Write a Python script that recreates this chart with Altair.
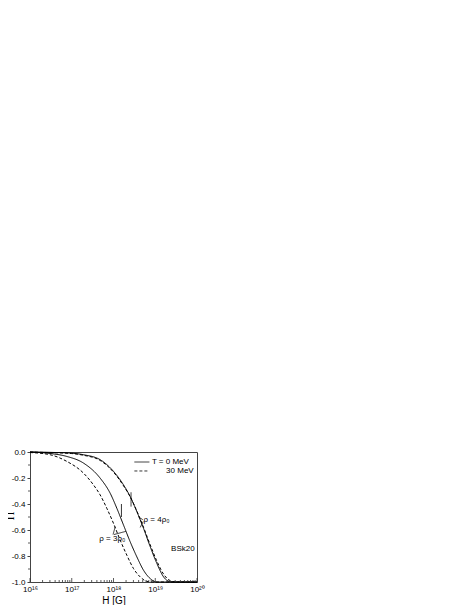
import altair as alt
import pandas as pd

# ---- data (log10 H [G], Pi) ----
logH_4_T0 = [16.0, 16.5, 17.0, 17.28, 17.68, 18.0, 18.24, 18.4, 18.56, 18.72, 18.88, 19.04, 19.2, 19.36, 19.5, 20.0]
pi_4_T0 = [0.0, -0.003, -0.009, -0.021, -0.059, -0.149, -0.253, -0.343, -0.459, -0.588, -0.729, -0.858, -0.961, -0.998, -1.0, -1.0]

logH_4_T30 = [16.0, 16.5, 17.0, 17.28, 17.68, 18.0, 18.24, 18.4, 18.56, 18.72, 18.88, 19.04, 19.2, 19.36, 19.5, 20.0]
pi_4_T30 = [-0.001, -0.005, -0.012, -0.025, -0.065, -0.155, -0.26, -0.345, -0.455, -0.58, -0.715, -0.84, -0.94, -0.99, -1.0, -1.0]

logH_3_T0 = [16.0, 16.5, 16.88, 17.28, 17.68, 17.92, 18.08, 18.24, 18.4, 18.56, 18.72, 18.88, 19.04, 20.0]
pi_3_T0 = [0.0, -0.012, -0.034, -0.085, -0.201, -0.317, -0.433, -0.562, -0.691, -0.807, -0.91, -0.974, -1.0, -1.0]

logH_3_T30 = [16.0, 16.48, 16.88, 17.28, 17.52, 17.68, 17.84, 18.0, 18.16, 18.32, 18.48, 18.64, 18.8, 18.96, 20.0]
pi_3_T30 = [-0.004, -0.021, -0.072, -0.162, -0.253, -0.330, -0.433, -0.549, -0.678, -0.794, -0.897, -0.961, -0.995, -1.0, -1.0]

x_major = [16, 17, 18, 19, 20]
x_tick_labels = ["10¹⁶", "10¹⁷", "10¹⁸", "10¹⁹", "10²⁰"]
y_major = [0.0, -0.2, -0.4, -0.6, -0.8, -1.0]
y_minor = [-0.1, -0.3, -0.5, -0.7, -0.9]
y_title = "Π"
x_title = "H [G]"

# annotation segments (log10 H, Pi)
seg_x1 = [18.70, 18.71, 17.99, 18.01, 18.42, 18.19, 18.50, 18.50]
seg_x2 = [18.60, 18.64, 18.04, 18.30, 18.42, 18.19, 18.86, 18.86]
seg_y1 = [-0.52, -0.535, -0.635, -0.635, -0.31, -0.40, -0.077, -0.146]
seg_y2 = [-0.50, -0.58, -0.575, -0.61, -0.42, -0.50, -0.077, -0.146]
seg_dash = ["solid", "solid", "solid", "solid", "solid", "solid", "solid", "dashed"]

txt_x = [18.92, 19.26, 18.72, 17.66, 19.38]
txt_y = [-0.077, -0.146, -0.52, -0.67, -0.745]
txt_s = ["T = 0 MeV", "30 MeV", "ρ = 4ρ₀", "ρ = 3ρ₀", "BSk20"]

# ---- tables ----
rows = []
for name, lh, pv, st in [("4rho0 T0", logH_4_T0, pi_4_T0, "solid"),
                         ("4rho0 T30", logH_4_T30, pi_4_T30, "dashed"),
                         ("3rho0 T0", logH_3_T0, pi_3_T0, "solid"),
                         ("3rho0 T30", logH_3_T30, pi_3_T30, "dashed")]:
    for a, b in zip(lh, pv):
        rows.append({"curve": name, "H": 10.0 ** a, "Pi": b, "style": st})
df = pd.DataFrame(rows)

seg = pd.DataFrame({"H": [10.0 ** v for v in seg_x1], "x2": [10.0 ** v for v in seg_x2],
                    "Pi": seg_y1, "y2": seg_y2, "style": seg_dash})
txt = pd.DataFrame({"H": [10.0 ** v for v in txt_x], "Pi": txt_y, "t": txt_s})

minor = []
for d in x_major[:-1]:
    for k in range(2, 10):
        minor.append(k * 10.0 ** d)
xminor = pd.DataFrame({"H": minor})
xmajor = pd.DataFrame({"H": [10.0 ** d for d in x_major]})
ymin = pd.DataFrame({"Pi": y_minor})
ytitle_df = pd.DataFrame({"t": [y_title]})

xscale = alt.Scale(type="log", domain=[1e16, 1e20], nice=False)
yscale = alt.Scale(domain=[-1.0, 0.0], nice=False, zero=False)
dash_scale = alt.Scale(domain=["solid", "dashed"], range=[[1, 0], [3, 2]])

label_arr = "[" + ",".join("'" + s + "'" for s in x_tick_labels) + "]"

X = alt.X("H:Q", scale=xscale,
          axis=alt.Axis(values=[10.0 ** d for d in x_major],
                        labelExpr=label_arr + "[round(log(datum.value)/LN10) - 16]",
                        title=x_title, ticks=False, labelPadding=3, titlePadding=2,
                        labelFlush=False, labelOverlap=False, grid=False))
Y = alt.Y("Pi:Q", scale=yscale,
          axis=alt.Axis(values=y_major, labelExpr="replace(format(datum.value, '.1f'), '−', '-')",
                        title=None, tickSize=3, labelPadding=2, labelOverlap=False,
                        labelFlush=False, grid=False))

lines = alt.Chart(df).mark_line(color="black", strokeWidth=1, interpolate="monotone").encode(
    x=X, y=Y,
    strokeDash=alt.StrokeDash("style:N", scale=dash_scale, legend=None),
    detail="curve:N",
)

segs = alt.Chart(seg).mark_rule(color="black", strokeWidth=0.8).encode(
    x=X, x2="x2:Q", y=Y, y2="y2:Q",
    strokeDash=alt.StrokeDash("style:N", scale=dash_scale, legend=None),
)

texts = alt.Chart(txt).mark_text(align="left", baseline="middle", fontSize=8,
                                 font="Liberation Sans", color="black").encode(
    x=X, y=Y, text="t:N")

ytitle = alt.Chart(ytitle_df).mark_text(angle=270, fontSize=12, font="Liberation Serif",
                                        color="black", baseline="middle", align="center").encode(
    x=alt.value(-20), y=alt.value(64), text="t:N")

xmin_ticks = alt.Chart(xminor).mark_rule(color="#333", strokeWidth=0.8).encode(
    x=X, y=alt.value(130), y2=alt.value(128))
xmaj_ticks = alt.Chart(xmajor).mark_rule(color="#333", strokeWidth=0.8).encode(
    x=X, y=alt.value(130), y2=alt.value(126))
ymin_ticks = alt.Chart(ymin).mark_rule(color="#333", strokeWidth=0.8).encode(
    y=Y, x=alt.value(-2), x2=alt.value(0))

chart = alt.layer(lines, segs, texts, ytitle, xmin_ticks, xmaj_ticks, ymin_ticks).properties(
    width=167, height=130,
    autosize=alt.AutoSizeParams(type="none"),
    padding={"left": 22, "top": 444, "right": 15, "bottom": 23},
).configure_view(stroke="#444", strokeWidth=1).configure_axis(
    domainColor="#444", tickColor="#444", labelColor="black", titleColor="black",
    labelFont="Liberation Sans", labelFontSize=8, titleFont="Liberation Sans",
    titleFontSize=10, titleFontWeight="normal", labelOverlap=False,
)

chart.save("out.html", embed_options={"renderer": "svg", "actions": False})
